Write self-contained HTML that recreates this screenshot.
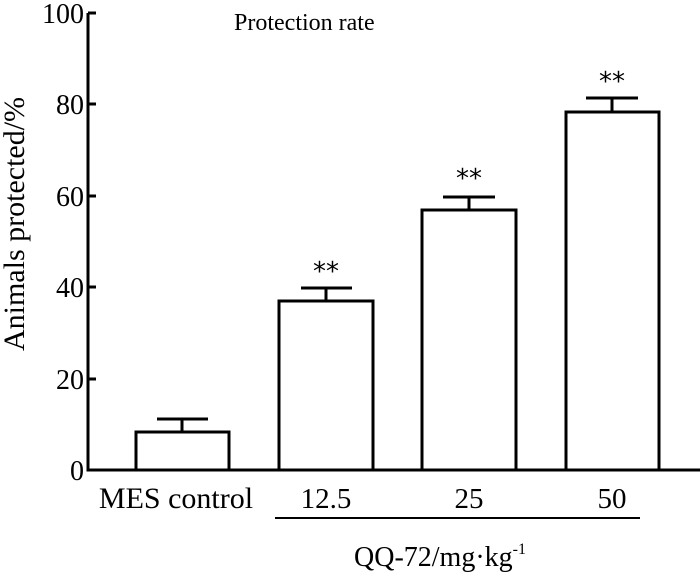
<!DOCTYPE html><html><head><style>body{margin:0;background:#fff}</style></head><body>
<svg width="700" height="579" xmlns="http://www.w3.org/2000/svg" font-family="Liberation Serif, serif" fill="none" stroke="#000" stroke-width="3">
<path d="M88,13 V470 H700"/>
<path d="M88,13 h8 M88,104 h8 M88,196 h8 M88,287 h8 M88,379 h8"/>
<rect x="136" y="432" width="93" height="38"/>
<path d="M182,432 V419 M157,419 H208"/>
<rect x="279" y="301" width="94" height="169"/>
<path d="M326,301 V288 M301,288 H352"/>
<rect x="422" y="210" width="94" height="260"/>
<path d="M469,210 V197 M443,197 H495"/>
<rect x="566" y="112" width="93" height="358"/>
<path d="M612,112 V98 M586,98 H638"/>
<path d="M275,518 H640" stroke-width="2"/>
<g fill="#000" stroke="none" font-size="28">
<text x="84" y="23" text-anchor="end">100</text>
<text x="84" y="114" text-anchor="end">80</text>
<text x="84" y="206" text-anchor="end">60</text>
<text x="84" y="297" text-anchor="end">40</text>
<text x="84" y="389" text-anchor="end">20</text>
<text x="84" y="480" text-anchor="end">0</text>
<text x="234" y="30" font-size="24">Protection rate</text>
<text x="176" y="508" text-anchor="middle" font-size="30">MES control</text>
<text x="326" y="508" text-anchor="middle" font-size="29">12.5</text>
<text x="469" y="508" text-anchor="middle" font-size="29">25</text>
<text x="612" y="508" text-anchor="middle" font-size="29">50</text>
<text x="440" y="566" text-anchor="middle" font-size="28">QQ-72/mg·kg<tspan font-size="16" dy="-12">-1</tspan></text>
<text x="326" y="280" text-anchor="middle" font-family="DejaVu Sans, sans-serif" font-size="26">**</text>
<text x="469" y="187" text-anchor="middle" font-family="DejaVu Sans, sans-serif" font-size="26">**</text>
<text x="612" y="90" text-anchor="middle" font-family="DejaVu Sans, sans-serif" font-size="26">**</text>
<text transform="translate(24,224) rotate(-90)" text-anchor="middle" font-size="30">Animals protected/%</text>
</g>
</svg>
</body></html>
